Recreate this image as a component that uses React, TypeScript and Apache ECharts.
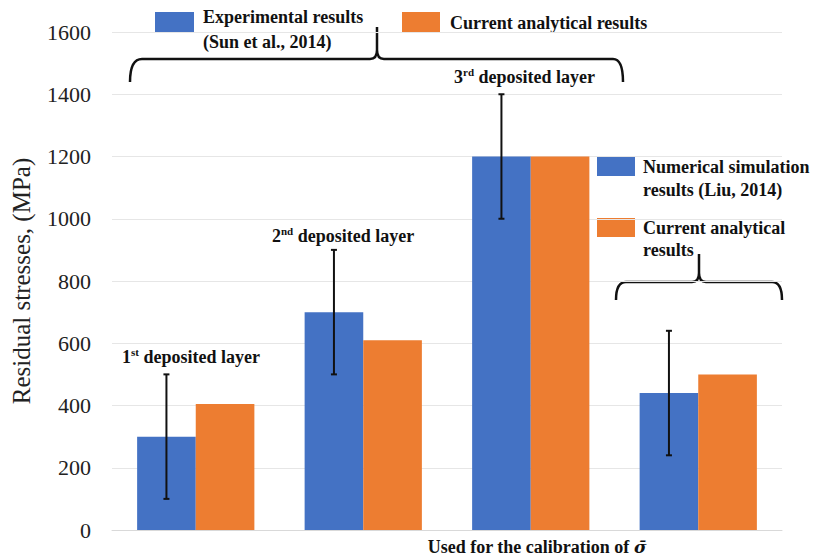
import React, { useEffect, useRef } from 'react';
import * as echarts from 'echarts';

const categories = ['1st deposited layer', '2nd deposited layer', '3rd deposited layer', 'Calibration'];
const experimental = [300, 700, 1200, 440];
const analytical = [405, 610, 1200, 500];
const errLow = [100, 500, 1000, 240];
const errHigh = [500, 900, 1400, 640];
const yMin = 0;
const yMax = 1600;
const yStep = 200;

const SERIF = 'Liberation Serif, Times New Roman, serif';
const BLUE = '#4472C4';
const ORANGE = '#ED7D31';

echarts.graphic.registerShape(
  'brace1',
  echarts.graphic.extendPath(
    'M130,82 Q130,59 142,59 L370,59 Q377,59 377,50 L377,27 M377,50 Q377,59 384,59 L613,59 Q623,59 623,82',
    {}
  )
);
echarts.graphic.registerShape(
  'brace2',
  echarts.graphic.extendPath(
    'M616,300 Q616,282 626,282 L692,282 Q699,282 699,273 L699,254 M699,273 Q699,282 706,282 L772,282 Q782,282 782,300',
    {}
  )
);

const boldText = (text: string, x: number, y: number) => ({
  type: 'text',
  x,
  y,
  style: {
    text,
    fill: '#111',
    fontSize: 18,
    fontWeight: 'bold',
    fontFamily: SERIF,
    verticalAlign: 'middle',
  },
});

const supText = (num: string, sup: string, x: number, y: number) => ({
  type: 'text',
  x,
  y,
  style: {
    text: `{n|${num}}{s|${sup}}{n| deposited layer}`,
    fill: '#111',
    verticalAlign: 'middle',
    rich: {
      n: { fontSize: 18, fontWeight: 'bold', fontFamily: SERIF, lineHeight: 22, fill: '#111' },
      s: { fontSize: 11, fontWeight: 'bold', fontFamily: SERIF, lineHeight: 12, verticalAlign: 'top', fill: '#111' },
    },
  },
});

export default function App() {
  const ref = useRef<HTMLDivElement>(null);
  useEffect(() => {
    if (!ref.current) return;
    const chart = echarts.init(ref.current, null, { renderer: 'svg' });
    const option: any = {
      animation: false,
      backgroundColor: '#fff',
      grid: { left: 112, right: 45, top: 32, bottom: 27, containLabel: false, outerBoundsMode: 'none' },
      xAxis: {
        type: 'category',
        data: categories,
        axisLine: { show: true, lineStyle: { color: '#D9D9D9', width: 1 } },
        axisTick: { show: false },
        axisLabel: { show: false },
      },
      yAxis: {
        type: 'value',
        min: yMin,
        max: yMax,
        interval: yStep,
        axisLine: { show: false },
        axisTick: { show: false },
        splitLine: { lineStyle: { color: '#E6E6E6', width: 1 } },
        axisLabel: {
          fontSize: 22,
          fontFamily: SERIF,
          color: '#222',
          margin: 21,
          formatter: (v: number) => String(v),
        },
        name: 'Residual stresses, (MPa)',
        nameLocation: 'middle',
        nameGap: 78,
        nameRotate: 90,
        nameTextStyle: { fontSize: 25, fontFamily: SERIF, color: '#222' },
      },
      series: [
        {
          name: 'Experimental / numerical results',
          type: 'bar',
          data: experimental,
          barGap: '0%',
          barCategoryGap: '30%',
          itemStyle: { color: BLUE },
        },
        {
          name: 'Current analytical results',
          type: 'bar',
          data: analytical,
          barGap: '0%',
          barCategoryGap: '30%',
          itemStyle: { color: ORANGE },
        },
        {
          name: 'Error',
          type: 'custom',
          z: 5,
          data: errLow.map((l, i) => [i, l, errHigh[i]]),
          encode: { x: 0, y: [1, 2] },
          renderItem: (params: any, api: any) => {
            const idx = api.value(0);
            const lo = api.coord([idx, api.value(1)]);
            const hi = api.coord([idx, api.value(2)]);
            const band = api.size([1, 0])[0];
            const x = lo[0] - (band * 0.7) / 4;
            const st = { stroke: '#111', lineWidth: 2 };
            return {
              type: 'group',
              children: [
                { type: 'line', shape: { x1: x, y1: lo[1], x2: x, y2: hi[1] }, style: st },
                { type: 'line', shape: { x1: x - 3, y1: lo[1], x2: x + 3, y2: lo[1] }, style: st },
                { type: 'line', shape: { x1: x - 3, y1: hi[1], x2: x + 3, y2: hi[1] }, style: st },
              ],
            };
          },
        },
      ],
      graphic: [
        { type: 'rect', shape: { x: 155, y: 12, width: 39, height: 20 }, style: { fill: BLUE } },
        boldText('Experimental results', 203, 17),
        boldText('(Sun et al., 2014)', 203, 42),
        { type: 'rect', shape: { x: 402, y: 12, width: 38, height: 20 }, style: { fill: ORANGE } },
        boldText('Current analytical results', 450, 23),
        { type: 'rect', shape: { x: 597, y: 157, width: 38, height: 19 }, style: { fill: BLUE } },
        boldText('Numerical simulation', 643, 167),
        boldText('results (Liu, 2014)', 643, 190),
        { type: 'rect', shape: { x: 597, y: 218, width: 38, height: 19 }, style: { fill: ORANGE } },
        boldText('Current analytical', 643, 228),
        boldText('results', 643, 250),
        { type: 'brace1', x: 0, y: 0, style: { stroke: '#111', lineWidth: 2.5, fill: null } },
        { type: 'brace2', x: 0, y: 0, style: { stroke: '#111', lineWidth: 2.5, fill: null } },
        supText('1', 'st', 122, 357),
        supText('2', 'nd', 272, 236),
        supText('3', 'rd', 454, 77),
        {
          type: 'text',
          x: 537,
          y: 547,
          style: {
            text: '{t|Used for the calibration of }{g|\u03C3\u0304}',
            align: 'center',
            verticalAlign: 'middle',
            rich: {
              t: { fontSize: 18, fontWeight: 'bold', fontFamily: SERIF, fill: '#111', lineHeight: 18 },
              g: { fontSize: 17, fontWeight: 'bold', fontStyle: 'italic', fontFamily: 'DejaVu Serif, serif', fill: '#111', lineHeight: 18 },
            },
          },
        },
      ],
    };
    chart.setOption(option);
    return () => chart.dispose();
  }, []);
  return (
    <div
      ref={ref}
      style={{ position: 'fixed', left: 0, top: 0, width: 827, height: 557, background: '#fff' }}
    />
  );
}
